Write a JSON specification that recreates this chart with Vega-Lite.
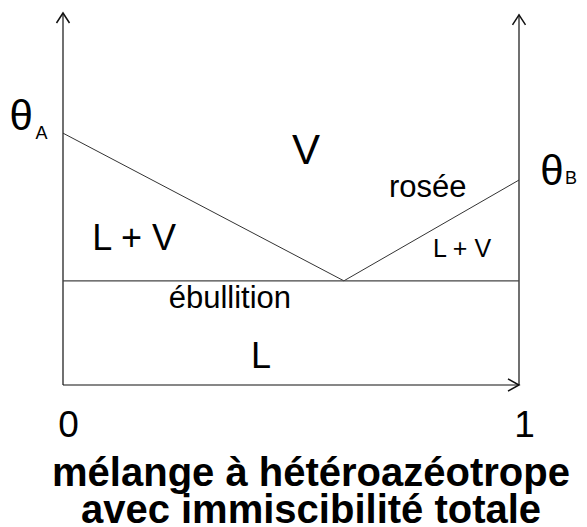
{
  "$schema": "https://vega.github.io/schema/vega-lite/v6.json",
  "width": 456,
  "height": 372,
  "autosize": "none",
  "padding": {"left": 63, "top": 13, "right": 68, "bottom": 142},
  "background": "white",
  "config": {"view": {"stroke": null}, "font": "Liberation Sans"},
  "title": {
    "text": ["mélange à hétéroazéotrope", "avec immiscibilité totale"],
    "orient": "bottom",
    "anchor": "middle",
    "frame": "group",
    "font": "Liberation Sans",
    "fontSize": 40,
    "fontWeight": "bold",
    "color": "black",
    "lineHeight": 37,
    "baseline": "top",
    "offset": 11,
    "dx": 20
  },
  "datasets": {
    "axes": [
      {"x": 0, "y": 0, "x2": 0, "y2": 100},
      {"x": 1, "y": 0, "x2": 1, "y2": 99.5},
      {"x": 0, "y": 0, "x2": 1, "y2": 0}
    ],
    "curves": [
      {"x": 0, "y": 67.7, "x2": 0.616, "y2": 28},
      {"x": 0.616, "y": 28, "x2": 1, "y2": 55.1}
    ],
    "eutectic": [{"x": 0, "y": 28, "x2": 1, "y2": 28}],
    "uparrows": [{"x": 0, "y": 100}, {"x": 1, "y": 99.5}],
    "rightarrow": [{"x": 1, "y": 0}],
    "big": [
      {"x": -0.092, "y": 68.5, "t": "θ"},
      {"x": 1.072, "y": 53.8, "t": "θ"},
      {"x": 0.533, "y": 59.4, "t": "V"}
    ],
    "mid": [
      {"x": 0.156, "y": 36.3, "t": "L + V"},
      {"x": 0.434, "y": 4.6, "t": "L"}
    ],
    "small": [
      {"x": 0.8, "y": 50.5, "t": "rosée"},
      {"x": 0.366, "y": 20.7, "t": "ébullition"}
    ],
    "smaller": [{"x": 0.875, "y": 34.4, "t": "L + V"}],
    "subs": [
      {"x": -0.047, "y": 66.1, "t": "A"},
      {"x": 1.114, "y": 54.0, "t": "B"}
    ]
  },
  "encoding": {
    "x": {
      "field": "x",
      "type": "quantitative",
      "scale": {"domain": [0, 1], "nice": false, "zero": false},
      "axis": {
        "values": [0, 1],
        "format": "d",
        "ticks": false,
        "domain": false,
        "grid": false,
        "labelFontSize": 37,
        "labelColor": "black",
        "labelPadding": 22,
        "labelOffset": 5,
        "labelFlush": false,
        "labelFont": "Liberation Sans",
        "title": null
      }
    },
    "y": {
      "field": "y",
      "type": "quantitative",
      "scale": {"domain": [0, 100], "nice": false, "zero": false},
      "axis": null
    }
  },
  "layer": [
    {
      "data": {"name": "axes"},
      "mark": {"type": "rule", "color": "#111111", "strokeWidth": 1.2},
      "encoding": {"x2": {"field": "x2"}, "y2": {"field": "y2"}}
    },
    {
      "data": {"name": "curves"},
      "mark": {"type": "rule", "color": "#333333", "strokeWidth": 1},
      "encoding": {"x2": {"field": "x2"}, "y2": {"field": "y2"}}
    },
    {
      "data": {"name": "eutectic"},
      "mark": {"type": "rule", "color": "#444444", "strokeWidth": 1.2},
      "encoding": {"x2": {"field": "x2"}, "y2": {"field": "y2"}}
    },
    {
      "data": {"name": "uparrows"},
      "mark": {"type": "point", "shape": "M -0.65 1 L 0 0 L 0.65 1", "filled": false, "stroke": "#111111", "strokeWidth": 1.5, "size": 400, "opacity": 1}
    },
    {
      "data": {"name": "rightarrow"},
      "mark": {"type": "point", "shape": "M -1 -0.55 L 0 0 L -1 0.55", "filled": false, "stroke": "#111111", "strokeWidth": 1.5, "size": 484, "opacity": 1}
    },
    {
      "data": {"name": "big"},
      "mark": {"type": "text", "fontSize": 42, "font": "Liberation Sans", "color": "black", "align": "center", "baseline": "alphabetic"},
      "encoding": {"text": {"field": "t"}}
    },
    {
      "data": {"name": "mid"},
      "mark": {"type": "text", "fontSize": 36, "font": "Liberation Sans", "color": "black", "align": "center", "baseline": "alphabetic"},
      "encoding": {"text": {"field": "t"}}
    },
    {
      "data": {"name": "small"},
      "mark": {"type": "text", "fontSize": 31, "font": "Liberation Sans", "color": "black", "align": "center", "baseline": "alphabetic"},
      "encoding": {"text": {"field": "t"}}
    },
    {
      "data": {"name": "smaller"},
      "mark": {"type": "text", "fontSize": 25, "font": "Liberation Sans", "color": "black", "align": "center", "baseline": "alphabetic"},
      "encoding": {"text": {"field": "t"}}
    },
    {
      "data": {"name": "subs"},
      "mark": {"type": "text", "fontSize": 18, "font": "Liberation Sans", "color": "black", "align": "center", "baseline": "alphabetic"},
      "encoding": {"text": {"field": "t"}}
    }
  ]
}
